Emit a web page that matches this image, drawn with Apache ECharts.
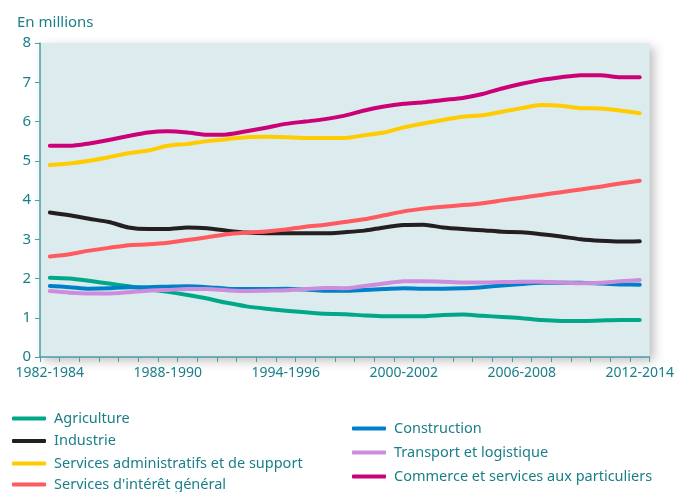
<!DOCTYPE html>
<html>
<head>
<meta charset="utf-8">
<script src="https://cdn.jsdelivr.net/npm/echarts@6/dist/echarts.min.js"></script>
<style>
  html, body { margin: 0; padding: 0; background: #fff; }
  #chart { width: 677px; height: 492px; }
</style>
</head>
<body>
<div id="chart"></div>
<script>
// périodes glissantes de 3 ans
const periods = [
  "1982-1984", "1983-1985", "1984-1986", "1985-1987", "1986-1988", "1987-1989",
  "1988-1990", "1989-1991", "1990-1992", "1991-1993", "1992-1994", "1993-1995",
  "1994-1996", "1995-1997", "1996-1998", "1997-1999", "1998-2000", "1999-2001",
  "2000-2002", "2001-2003", "2002-2004", "2003-2005", "2004-2006", "2005-2007",
  "2006-2008", "2007-2009", "2008-2010", "2009-2011", "2010-2012", "2011-2013",
  "2012-2014"
];

const agriculture = [2.02, 2.00, 1.94, 1.87, 1.80, 1.73, 1.66, 1.58, 1.49, 1.38, 1.29, 1.23, 1.18, 1.14, 1.10, 1.09,
  1.06, 1.04, 1.04, 1.04, 1.07, 1.08, 1.05, 1.02, 0.99, 0.94, 0.92, 0.92, 0.93, 0.94, 0.94];
const industrie = [3.68, 3.61, 3.52, 3.44, 3.30, 3.26, 3.26, 3.30, 3.28, 3.22, 3.17, 3.15, 3.15, 3.15, 3.15, 3.18,
  3.22, 3.30, 3.36, 3.37, 3.30, 3.26, 3.23, 3.19, 3.18, 3.13, 3.07, 3.00, 2.96, 2.94, 2.95];
const servicesAdmin = [4.89, 4.93, 5.00, 5.09, 5.19, 5.26, 5.38, 5.43, 5.50, 5.55, 5.60, 5.61, 5.60, 5.58, 5.58, 5.58,
  5.65, 5.72, 5.85, 5.95, 6.04, 6.12, 6.16, 6.25, 6.34, 6.42, 6.40, 6.34, 6.33, 6.28, 6.21];
const servicesInteret = [2.56, 2.62, 2.71, 2.78, 2.85, 2.87, 2.91, 2.98, 3.05, 3.13, 3.17, 3.20, 3.25, 3.32, 3.37, 3.44,
  3.51, 3.61, 3.71, 3.78, 3.83, 3.87, 3.92, 3.99, 4.06, 4.13, 4.20, 4.27, 4.34, 4.42, 4.49];
const construction = [1.81, 1.78, 1.74, 1.75, 1.78, 1.78, 1.79, 1.80, 1.78, 1.74, 1.73, 1.73, 1.74, 1.72, 1.69, 1.69,
  1.71, 1.73, 1.75, 1.74, 1.74, 1.75, 1.78, 1.82, 1.86, 1.89, 1.89, 1.89, 1.87, 1.85, 1.84];
const transport = [1.68, 1.64, 1.62, 1.62, 1.65, 1.69, 1.71, 1.73, 1.73, 1.70, 1.68, 1.69, 1.70, 1.73, 1.76, 1.75,
  1.81, 1.87, 1.93, 1.93, 1.92, 1.90, 1.90, 1.91, 1.92, 1.92, 1.90, 1.88, 1.89, 1.93, 1.96];
const commerce = [5.38, 5.38, 5.44, 5.53, 5.63, 5.72, 5.75, 5.72, 5.66, 5.67, 5.75, 5.84, 5.94, 6.00, 6.06, 6.15,
  6.28, 6.38, 6.45, 6.49, 6.55, 6.60, 6.70, 6.84, 6.96, 7.06, 7.13, 7.18, 7.18, 7.13, 7.13];

const teal = "#1b7f89";
const axisTeal = "#4c9da5";
const font = "Noto Sans";

function line(name, data, color) {
  return {
    name: name,
    type: "line",
    data: data,
    smooth: 0.25,
    symbol: "none",
    color: color,
    lineStyle: { width: 4, color: color, cap: "round", join: "round" }
  };
}

function legendBlock(left, top, gap, names) {
  return {
    orient: "vertical",
    left: left,
    top: top,
    padding: 0,
    itemWidth: 34,
    itemHeight: 4,
    itemGap: gap,
    icon: "roundRect",
    textStyle: { color: teal, fontSize: 14.5, lineHeight: 14, fontFamily: font, padding: [0, 0, 0, 3] },
    data: names
  };
}

const chart = echarts.init(document.getElementById("chart"));
chart.setOption({
  animation: false,
  backgroundColor: "#fff",
  title: {
    text: "En millions",
    left: 12,
    top: 10,
    textStyle: { color: teal, fontSize: 15, fontWeight: "normal", fontFamily: font }
  },
  grid: {
    left: 40,
    right: 26,
    top: 43,
    bottom: 135,
    show: true,
    backgroundColor: "#dcebee",
    borderWidth: 0,
    shadowColor: "rgba(0,0,0,0.25)",
    shadowBlur: 10,
    shadowOffsetX: 4,
    shadowOffsetY: 4
  },
  legend: [
    legendBlock(12, 411, 7.5, ["Agriculture", "Industrie", "Services administratifs et de support"]),
    legendBlock(12, 477, 8, ["Services d'intérêt général"]),
    legendBlock(352, 421, 9, ["Construction", "Transport et logistique", "Commerce et services aux particuliers"])
  ],
  xAxis: {
    type: "category",
    data: periods,
    boundaryGap: true,
    axisLine: { lineStyle: { color: axisTeal, width: 1.5 } },
    axisTick: { show: true, interval: 0, length: 5, lineStyle: { color: axisTeal } },
    axisLabel: { interval: 5, color: teal, fontSize: 14, fontFamily: font, margin: 9 },
    splitLine: { show: false }
  },
  yAxis: {
    type: "value",
    min: 0,
    max: 8,
    interval: 1,
    axisLine: { show: true, lineStyle: { color: axisTeal, width: 1.5 } },
    axisTick: { show: true, length: 5, lineStyle: { color: axisTeal } },
    axisLabel: { color: teal, fontSize: 15, fontFamily: font, margin: 9 },
    splitLine: { show: false }
  },
  series: [
    line("Agriculture", agriculture, "#00a887"),
    line("Industrie", industrie, "#231f20"),
    line("Services administratifs et de support", servicesAdmin, "#ffcc00"),
    line("Services d'intérêt général", servicesInteret, "#ff5a5f"),
    line("Construction", construction, "#0080c9"),
    line("Transport et logistique", transport, "#cc8ddc"),
    line("Commerce et services aux particuliers", commerce, "#cc0077")
  ]
});
</script>
</body>
</html>
